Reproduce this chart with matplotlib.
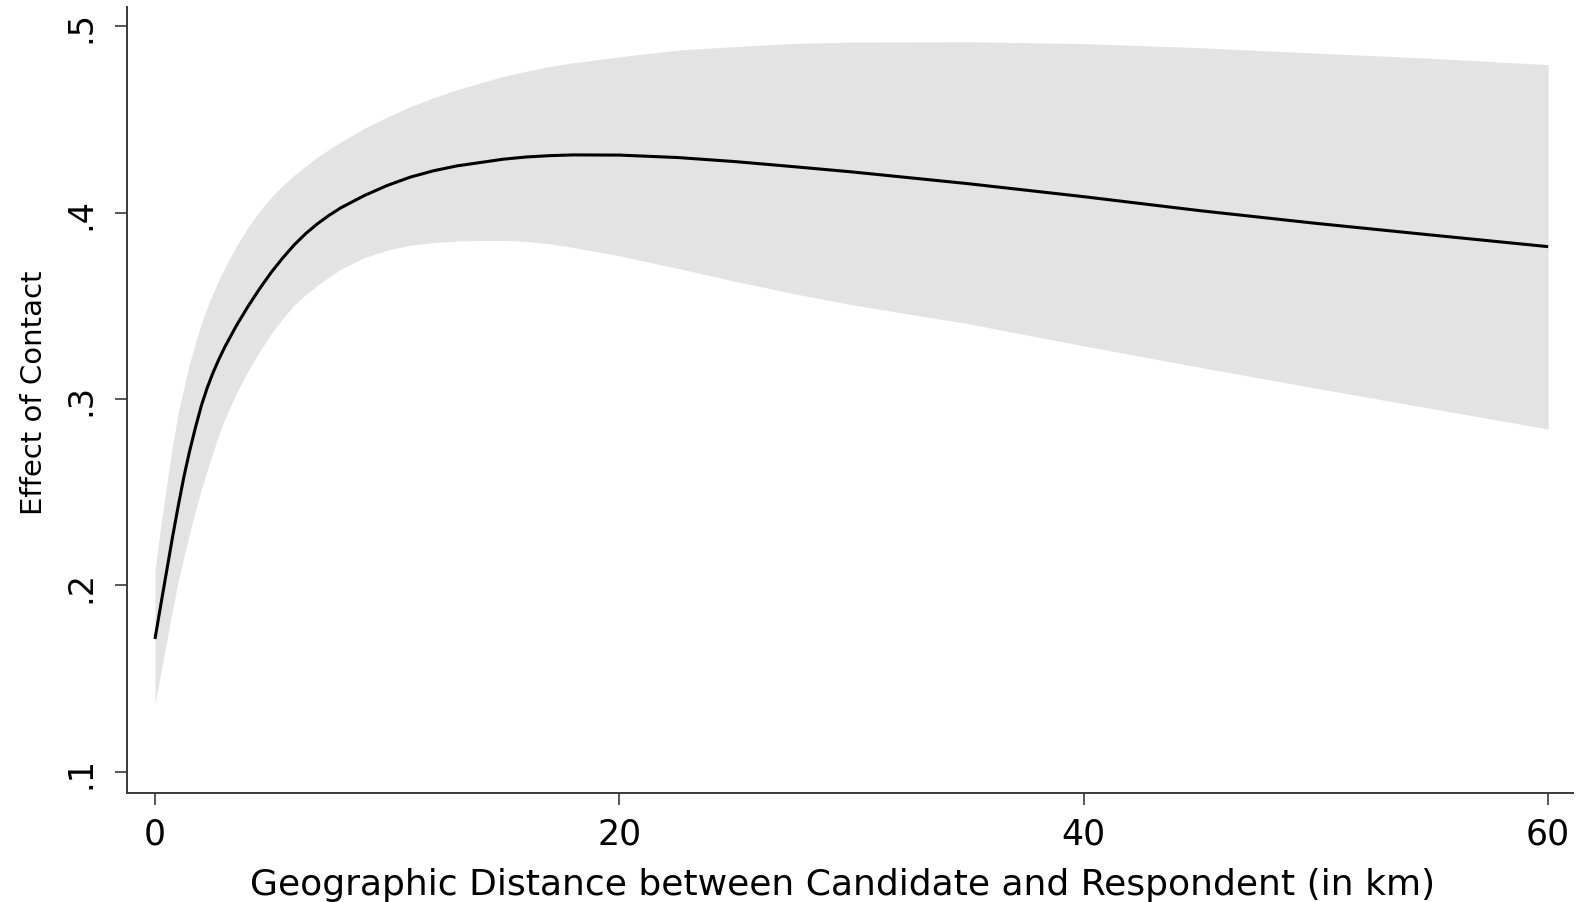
import matplotlib
matplotlib.use("Agg")
import matplotlib.pyplot as plt

# ---- data ----
x_km = [0, 0.25, 0.5, 0.75, 1, 1.25, 1.5, 1.75, 2, 2.25, 2.5, 2.75, 3, 3.5, 4, 4.5,
        5, 5.5, 6, 6.5, 7, 7.5, 8, 9, 10, 11, 12, 13, 14, 15, 16, 17, 18,
        20, 22.5, 25, 27.5, 30, 35, 40, 45, 50, 55, 60]
effect = [0.1713, 0.1895, 0.2075, 0.2255, 0.2425, 0.2585, 0.2725, 0.2850, 0.2965, 0.3060,
          0.3141, 0.3212, 0.3277, 0.3392, 0.3495, 0.3590, 0.3678, 0.3756, 0.3827, 0.3888,
          0.3940, 0.3985, 0.4025, 0.4090, 0.4145, 0.4190, 0.4224, 0.4250, 0.4268, 0.4286,
          0.4298, 0.4305, 0.4309, 0.4308, 0.4295, 0.4273, 0.4246, 0.4218, 0.4155, 0.4085,
          0.4010, 0.3942, 0.3879, 0.3817]
ci_upper = [0.2075, 0.232, 0.2535, 0.2745, 0.2925, 0.3065, 0.3195, 0.3305, 0.3405, 0.3491,
            0.3567, 0.3637, 0.3702, 0.3818, 0.3919, 0.4006, 0.4080, 0.4144, 0.4200, 0.4251,
            0.4297, 0.4339, 0.4378, 0.4451, 0.4512, 0.4568, 0.4616, 0.4658, 0.4695, 0.4730,
            0.4758, 0.4783, 0.4803, 0.4835, 0.4871, 0.4890, 0.4907, 0.4914, 0.4916, 0.4906,
            0.4884, 0.4855, 0.4827, 0.4793]
ci_lower = [0.1365, 0.1530, 0.1700, 0.1865, 0.2020, 0.2155, 0.2285, 0.2405, 0.2515, 0.2618,
            0.2715, 0.2808, 0.2890, 0.3030, 0.3148, 0.3255, 0.3350, 0.3430, 0.3505, 0.3560,
            0.3610, 0.3655, 0.3696, 0.3757, 0.3799, 0.3825, 0.3839, 0.3847, 0.3850, 0.3850,
            0.3845, 0.3832, 0.3813, 0.3768, 0.3701, 0.3631, 0.3565, 0.3506, 0.3404, 0.3285,
            0.3170, 0.3058, 0.2948, 0.2839]

x_ticks = [0, 20, 40, 60]
x_tick_labels = ["0", "20", "40", "60"]
y_ticks = [0.1, 0.2, 0.3, 0.4, 0.5]
y_tick_labels = [".1", ".2", ".3", ".4", ".5"]

x_title = "Geographic Distance between Candidate and Respondent (in km)"
y_title = "Effect of Contact"

# ---- figure ----
plt.rcParams["font.family"] = ["DejaVu Sans"]
fig = plt.figure(figsize=(15.83, 9.03), dpi=100)
fig.patch.set_facecolor("white")
ax = fig.add_axes([0.0802, 0.1207, 0.9135, 0.8704])
ax.set_facecolor("white")

ax.fill_between(x_km, ci_lower, ci_upper, color="#e3e3e3", linewidth=0, zorder=1)
ax.plot(x_km, effect, color="black", lw=2.2, zorder=2,
        solid_joinstyle="round", solid_capstyle="butt")

ax.set_xlim(-1.206, 61.07)
ax.set_ylim(0.0887, 0.5102)

for s in ("top", "right"):
    ax.spines[s].set_visible(False)
for s in ("left", "bottom"):
    ax.spines[s].set_color("#3a3a3a")
    ax.spines[s].set_linewidth(1.4)

ax.set_xticks(x_ticks)
ax.set_xticklabels(x_tick_labels)
ax.set_yticks(y_ticks)
ax.set_yticklabels(y_tick_labels, rotation=90, va="center")

ax.tick_params(axis="both", direction="out", length=8.6, width=1.2, color="#3a3a3a")
ax.tick_params(axis="x", labelsize=25, pad=8)
ax.tick_params(axis="y", labelsize=24, pad=13)

ax.set_xlabel(x_title, fontsize=26)
ax.xaxis.label.set_va("baseline")
ax.xaxis.set_label_coords(0.4948, -0.1285)

ax.set_ylabel(y_title, fontsize=21)
ax.yaxis.set_label_coords(-0.0546, 0.511)

fig.savefig("out.png", dpi=100, facecolor="white")
